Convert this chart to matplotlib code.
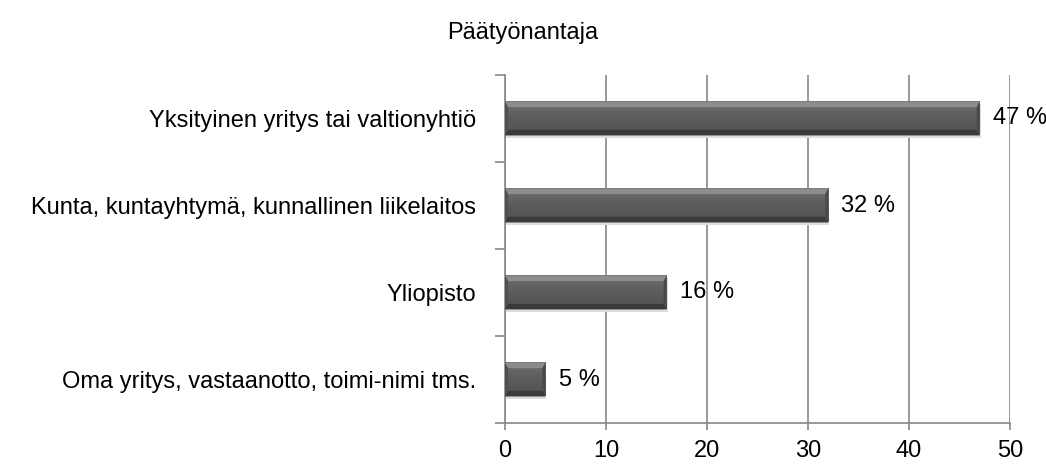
import numpy as np
import matplotlib.pyplot as plt
from matplotlib.patches import Polygon, Rectangle
from matplotlib.colors import LinearSegmentedColormap

# data, top to bottom
categories = ["Yksityinen yritys tai valtionyhtiö",
              "Kunta, kuntayhtymä, kunnallinen liikelaitos",
              "Yliopisto",
              "Oma yritys, vastaanotto, toimi-nimi tms."]
values = [47, 32, 16, 4]
labels = ["47 %", "32 %", "16 %", "5 %"]
title = "Päätyönantaja"

plt.rcParams['font.family'] = ['Liberation Sans', 'DejaVu Sans']
fs = 17

fig = plt.figure(figsize=(10.46, 4.67), dpi=100)
ax = fig.add_axes([505 / 1046, 1 - 423 / 467, 505 / 1046, 348 / 467])

y = np.arange(len(categories))[::-1]
h = 0.39
cmap = LinearSegmentedColormap.from_list("g", ["#6e6e6e", "#5c5c5c", "#525252"])
grad = np.linspace(0, 1, 64).reshape(-1, 1)

# gradient bars with a bevelled edge
for yi, v in zip(y, values):
    x0, x1, y0, y1 = 0, v, yi - h / 2, yi + h / 2
    bx, by = 0.3, 0.065
    # soft shadow
    ax.add_patch(Rectangle((x0 + 0.1, y0 - 0.025), v, h, color="#dddddd", lw=0, zorder=2))
    ax.imshow(grad, cmap=cmap, extent=[x0, x1, y0, y1], aspect='auto', zorder=3)
    ax.add_patch(Polygon([[x0, y1], [x1, y1], [x1 - bx, y1 - by], [x0 + bx, y1 - by]],
                         color="#8c8c8c", lw=0, zorder=4))
    ax.add_patch(Polygon([[x0, y0], [x1, y0], [x1 - bx, y0 + by], [x0 + bx, y0 + by]],
                         color="#3a3a3a", lw=0, zorder=4))
    ax.add_patch(Polygon([[x1, y0], [x1, y1], [x1 - bx, y1 - by], [x1 - bx, y0 + by]],
                         color="#4a4a4a", lw=0, zorder=4))
    ax.add_patch(Polygon([[x0, y0], [x0, y1], [x0 + bx, y1 - by], [x0 + bx, y0 + by]],
                         color="#505050", lw=0, zorder=4))

for yi, v, lab in zip(y, values, labels):
    ax.text(v + 1.3, yi, lab, va='center', ha='left', fontsize=fs, zorder=5)

ax.set_xlim(0, 50)
ax.set_ylim(-0.5, len(categories) - 0.5)
ax.set_xticks(np.arange(0, 51, 10))
ax.set_xticklabels([str(t) for t in range(0, 51, 10)], fontsize=fs)
ax.set_yticks(y)
ax.set_yticklabels(categories, fontsize=fs)
ax.set_yticks(np.arange(-0.5, len(categories), 1), minor=True)
ax.tick_params(axis='y', which='major', length=0, pad=21)
ax.tick_params(axis='y', which='minor', length=7, color='#888888', width=1.2)
ax.tick_params(axis='x', length=5, color='#888888', width=1.2, pad=7)
ax.grid(axis='x', color='#888888', lw=1.2, zorder=0)
ax.set_axisbelow(True)
for s in ['top', 'right']:
    ax.spines[s].set_visible(False)
for s in ['left', 'bottom']:
    ax.spines[s].set_color('#888888')
    ax.spines[s].set_linewidth(1.2)

fig.text(0.5, 1 - 33 / 467, title, ha='center', va='center', fontsize=fs)

fig.savefig("out.png", dpi=100)
